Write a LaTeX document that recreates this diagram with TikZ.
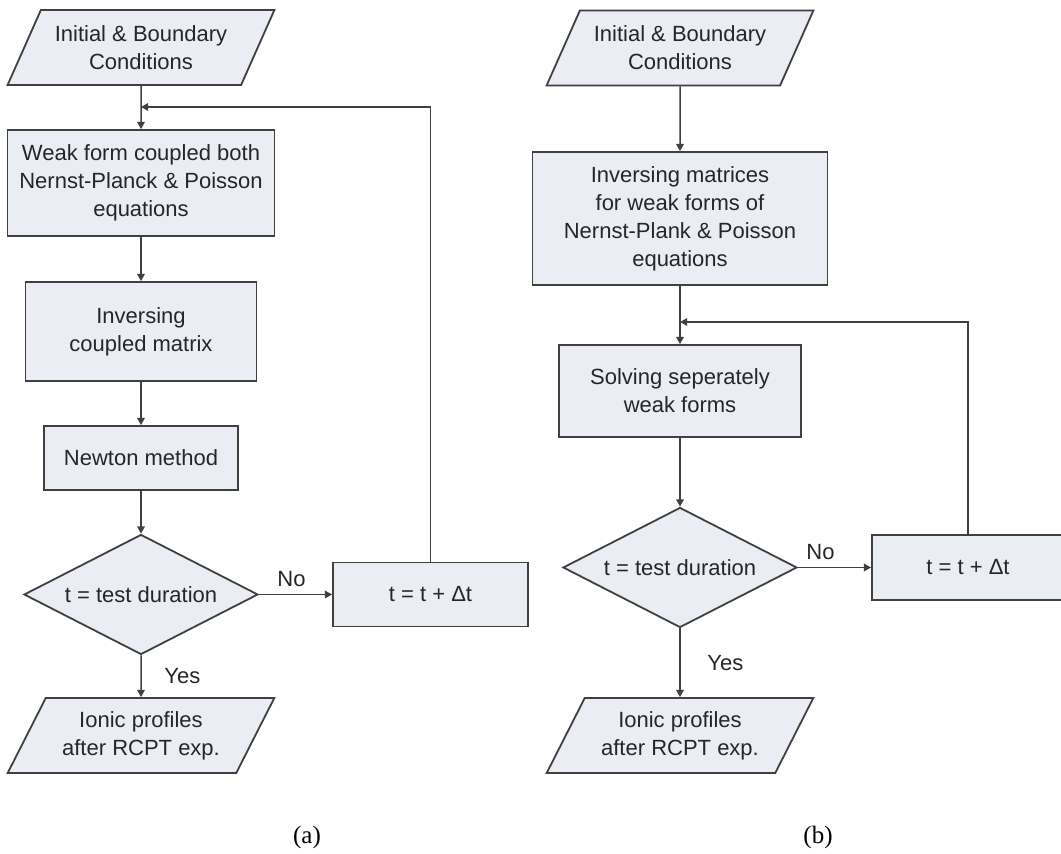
\documentclass[tikz,border=0pt]{standalone}
\usepackage{fontspec}
\setmainfont{Liberation Sans}
\newfontfamily\captionfont{Liberation Serif}
\usetikzlibrary{shapes.geometric,arrows.meta}
\definecolor{boxfill}{RGB}{234,237,243}
\definecolor{boxline}{RGB}{64,64,64}
\definecolor{txtgray}{RGB}{38,38,38}
\tikzset{
  chartfont/.style={font=\fontsize{11}{14}\selectfont, text=txtgray},
  procbox/.style={rectangle, draw=boxline, fill=boxfill, line width=0.9pt, align=center, inner sep=0pt, chartfont},
  iobox/.style={trapezium, trapezium left angle=57, trapezium right angle=123, trapezium stretches=true,
    draw=boxline, fill=boxfill, line width=0.9pt, align=center, inner sep=0pt, chartfont,
    minimum width=133.5pt, minimum height=37.5pt},
  decision/.style={diamond, aspect=2, draw=boxline, fill=boxfill, line width=0.9pt, inner sep=0pt, chartfont,
    minimum width=117pt, minimum height=60pt},
  flow/.style={draw=boxline, line width=0.75pt, -{Triangle[length=3.6pt,width=3.8pt]}},
  flowlabel/.style={chartfont},
  subcaption/.style={font=\captionfont\fontsize{12.5}{15}\selectfont},
}
\begin{document}
\begin{tikzpicture}[x=0.5pt,y=-0.5pt]
\useasboundingbox (0,0) rectangle (1061,854);
% (a) coupled scheme
\node[iobox] (ibcA) at (141,47.5) {Initial \& Boundary\\Conditions};
\coordinate (joinA) at (141,107);
\node[procbox, minimum width=133.5pt, minimum height=53pt] (weakA) at (141,183) {Weak form coupled both\\Nernst-Planck \& Poisson\\equations};
\node[procbox, minimum width=115.5pt, minimum height=49.5pt] (invA) at (141,331.5) {Inversing\\coupled matrix};
\node[procbox, minimum width=97pt, minimum height=32pt] (newtonA) at (141,458) {Newton method};
\node[decision] (testA) at (141,594.5) {t = test duration};
\node[procbox, minimum width=97.5pt, minimum height=32pt] (stepA) at (430.5,594.5) {t = t + Δt};
\node[iobox] (outA) at (141,735.5) {Ionic profiles\\after RCPT exp.};
\node[subcaption] (capA) at (307,837) {(a)};
\draw[flow] (ibcA) -- (weakA);
\draw[flow] (weakA) -- (invA);
\draw[flow] (invA) -- (newtonA);
\draw[flow] (newtonA) -- (testA);
\draw[flow] (testA) -- node[flowlabel, above, xshift=-2pt] {No} (stepA);
\draw[flow] (stepA.north) |- (joinA);
\draw[flow] (testA) -- node[flowlabel, right, xshift=8pt] {Yes} (outA);
% (b) separate scheme
\node[iobox] (ibcB) at (680,48) {Initial \& Boundary\\Conditions};
\node[procbox, minimum width=147.5pt, minimum height=66.5pt] (invB) at (680,218.5) {Inversing matrices\\for weak forms of\\Nernst-Plank \& Poisson\\equations};
\coordinate (joinB) at (680,322);
\node[procbox, minimum width=121pt, minimum height=46pt] (solveB) at (680,391) {Solving seperately\\weak forms};
\node[decision] (testB) at (680,567.5) {t = test duration};
\node[procbox, minimum width=96pt, minimum height=32.5pt] (stepB) at (968,567.5) {t = t + Δt};
\node[iobox] (outB) at (680,735.5) {Ionic profiles\\after RCPT exp.};
\node[subcaption] (capB) at (818,837) {(b)};
\draw[flow] (ibcB) -- (invB);
\draw[flow] (invB) -- (solveB);
\draw[flow] (solveB) -- (testB);
\draw[flow] (testB) -- node[flowlabel, above, xshift=-7pt] {No} (stepB);
\draw[flow] (stepB.north) |- (joinB);
\draw[flow] (testB) -- node[flowlabel, right, xshift=10pt] {Yes} (outB);
\end{tikzpicture}
\end{document}
